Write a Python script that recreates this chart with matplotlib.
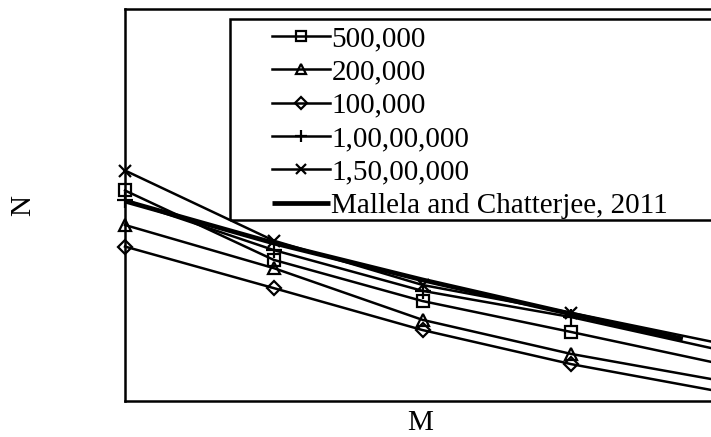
import matplotlib
matplotlib.use("Agg")
import matplotlib.pyplot as plt
from matplotlib.patches import Rectangle

plt.rcParams['font.family'] = ['Liberation Serif', 'DejaVu Serif']

# Data (arbitrary N units)
M = [1, 2, 3, 4, 5]
n_500k = [53.7, 36.0, 25.5, 17.6, 9.5]
n_200k = [44.9, 33.9, 20.7, 12.0, 5.2]
n_100k = [39.4, 28.8, 18.1, 9.4, 2.4]
n_1cr = [51.3, 38.5, 28.1, 21.4, 13.0]
n_15cr = [58.8, 40.9, 29.6, 22.5, 14.7]
M_mallela = [1, 2, 3, 4, 4.75]
n_mallela = [51.0, 40.3, 30.9, 22.2, 15.8]

labels = ['500,000', '200,000', '100,000', '1,00,00,000', '1,50,00,000',
          'Mallela and Chatterjee, 2011']

W, H = 711, 437
fig = plt.figure(figsize=(W / 100, H / 100), dpi=100)
left = 125 / W
right = 720 / W
bottom = (H - 401) / H
top = (H - 9) / H
ax = fig.add_axes([left, bottom, right - left, top - bottom])

kw = dict(color='black', lw=1.8, markerfacecolor='none', markeredgecolor='black',
          markeredgewidth=1.6, clip_on=False)
ax.plot(M, n_500k, marker='s', ms=9, label=labels[0], **kw)
ax.plot(M, n_200k, marker='^', ms=9, label=labels[1], **kw)
ax.plot(M, n_100k, marker='D', ms=7, label=labels[2], **kw)
ax.plot(M, n_1cr, marker='+', ms=11, label=labels[3], **kw)
ax.plot(M, n_15cr, marker='x', ms=9, label=labels[4], **kw)
ax.plot(M_mallela, n_mallela, color='black', lw=3.4, label=labels[5],
        solid_capstyle='butt')

ax.set_xlim(1, 5)
ax.set_ylim(0, 100)
ax.set_xticks([])
ax.set_yticks([])
for s in ax.spines.values():
    s.set_linewidth(1.8)

# legend frame
fig.patches.append(Rectangle((230 / W, (H - 220) / H), 600 / W, 201 / H,
                             transform=fig.transFigure, fill=False,
                             edgecolor='black', lw=1.8, zorder=5))
leg = fig.legend(loc='upper left', bbox_to_anchor=(254 / W, (H - 8) / H),
                 frameon=False, fontsize=21, handlelength=2.0, markerscale=0.85,
                 handletextpad=0.05, labelspacing=0.24, borderpad=0.1)

fig.text(23 / W, (H - 205) / H, 'N', rotation=90, fontsize=21,
         ha='center', va='center')
fig.text(420 / W, (H - 423) / H, 'M', fontsize=21, ha='center', va='center')

fig.savefig('out.png', dpi=100)
